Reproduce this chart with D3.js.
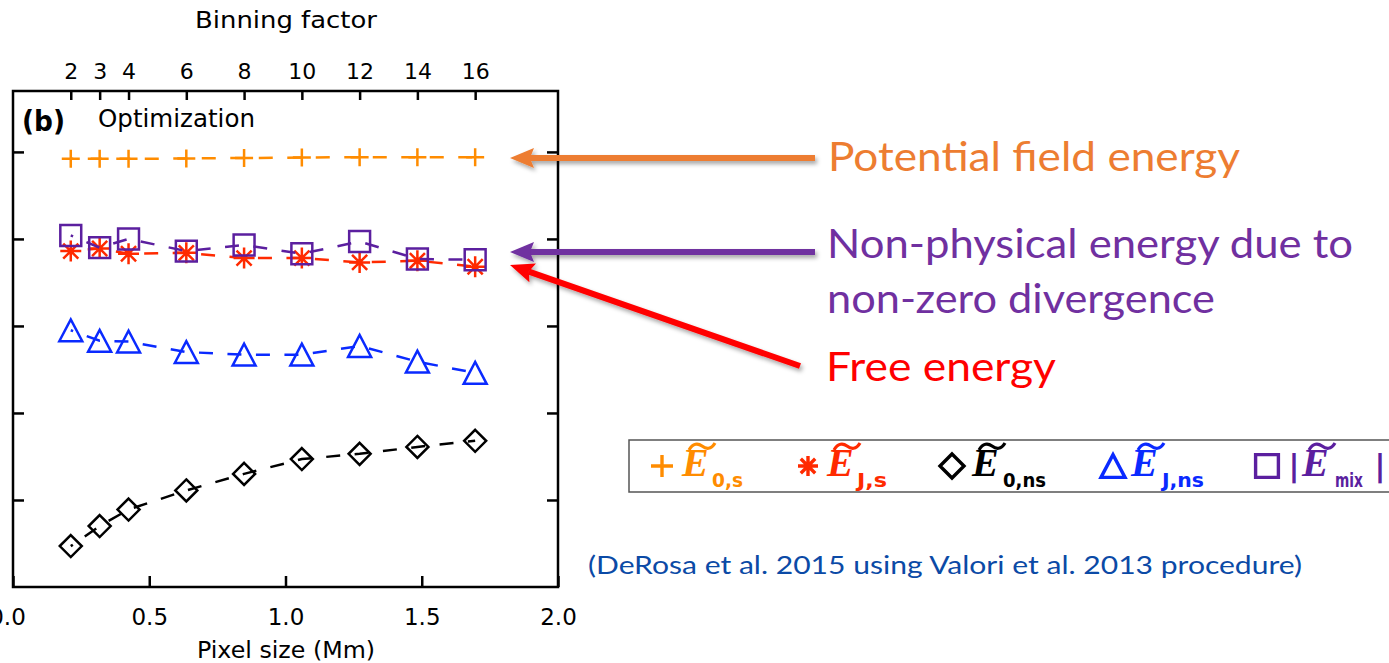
<!DOCTYPE html>
<html>
<head>
<meta charset="utf-8">
<script src="https://cdn.jsdelivr.net/npm/d3@7"></script>
<style>
  html, body { margin: 0; padding: 0; background: #ffffff; }
  svg { display: block; }
</style>
</head>
<body>
<script>
// ---------------- DATA ----------------
const binning   = [2, 3, 4, 6, 8, 10, 12, 14, 16];
const pixelSize = [0.212, 0.318, 0.424, 0.636, 0.848, 1.060, 1.272, 1.484, 1.696];
const E0s  = [4.92, 4.92, 4.92, 4.925, 4.93, 4.935, 4.94, 4.94, 4.94];
const EJs  = [3.86, 3.89, 3.83, 3.84, 3.78, 3.78, 3.73, 3.75, 3.68];
const E0ns = [0.47, 0.70, 0.89, 1.11, 1.30, 1.47, 1.53, 1.61, 1.68];
const EJns = [2.95, 2.83, 2.82, 2.70, 2.67, 2.67, 2.77, 2.59, 2.46];
const Emix = [4.04, 3.90, 4.00, 3.86, 3.93, 3.83, 3.97, 3.77, 3.76];
const xTicks = [0.0, 0.5, 1.0, 1.5, 2.0];
const yTicks = [1, 2, 3, 4, 5];
const seriesNames   = ["E0s", "EJs", "E0ns", "EJns", "Emix"];
const seriesSymbols = ["plus", "asterisk", "diamond", "triangle", "square"];
const seriesColors  = ["#ff8c00", "#ff2a00", "#000000", "#0a2aff", "#5b1f9f"];
const legendSubs    = ["0,s", "J,s", "0,ns", "J,ns", "mix"];
const annotations = [
  { text: "Potential field energy", color: "#ed7d31" },
  { text: "Non-physical energy due to", color: "#7030a0" },
  { text: "non-zero divergence", color: "#7030a0" },
  { text: "Free energy", color: "#ff0000" }
];
const citation = "(DeRosa et al. 2015 using Valori et al. 2013 procedure)";

// ---------------- LAYOUT ----------------
const W = 1389, H = 663;
const frame = { left: 13, right: 558, top: 91, bottom: 587 };
const axisFont = "'DejaVu Sans', sans-serif";
const annFont = "Lato, 'Open Sans', sans-serif";

const svg = d3.select("body").append("svg").attr("width", W).attr("height", H);

const defs = svg.append("defs");
const f = defs.append("filter").attr("id", "shadow").attr("x", "-10%").attr("y", "-50%").attr("width", "130%").attr("height", "200%");
f.append("feDropShadow").attr("dx", 2).attr("dy", 3).attr("stdDeviation", 2).attr("flood-color", "#000").attr("flood-opacity", 0.35);

const x = d3.scaleLinear().domain([0, 2]).range([frame.left, frame.right]);
const y = d3.scaleLinear().domain([0, 5.7]).range([frame.bottom, frame.top]);

// ---------------- AXES ----------------
const tickStroke = 2.5;
function styleAxis(g) {
  g.select(".domain").remove();
  g.selectAll("line").attr("stroke", "#000").attr("stroke-width", tickStroke);
  g.selectAll("text").attr("fill", "#000").style("font-family", axisFont);
}

const gBottom = svg.append("g").attr("transform", `translate(0,${frame.bottom})`)
  .call(d3.axisBottom(x).tickValues(xTicks).tickSizeInner(-11).tickSizeOuter(0).tickFormat(d3.format(".1f")));
styleAxis(gBottom);
gBottom.selectAll("text").attr("y", 38).attr("dy", null).style("font-size", "23px");
gBottom.selectAll("text").filter(d => d === 0).attr("x", -6);

const gTop = svg.append("g").attr("transform", `translate(0,${frame.top})`)
  .call(d3.axisTop(x).tickValues(pixelSize).tickSizeInner(-9).tickSizeOuter(0).tickFormat((d, i) => binning[i]));
styleAxis(gTop);
gTop.selectAll("text").attr("y", -12).attr("dy", null).style("font-size", "22px");

const gLeft = svg.append("g").attr("transform", `translate(${frame.left},0)`)
  .call(d3.axisLeft(y).tickValues(yTicks).tickSizeInner(-11).tickSizeOuter(0).tickFormat(""));
styleAxis(gLeft);
const gRight = svg.append("g").attr("transform", `translate(${frame.right},0)`)
  .call(d3.axisRight(y).tickValues(yTicks).tickSizeInner(-11).tickSizeOuter(0).tickFormat(""));
styleAxis(gRight);

svg.append("rect")
  .attr("x", frame.left).attr("y", frame.top)
  .attr("width", frame.right - frame.left).attr("height", frame.bottom - frame.top)
  .attr("fill", "none").attr("stroke", "#000").attr("stroke-width", 2.5);

// axis titles
svg.append("text").attr("x", 286).attr("y", 28).attr("text-anchor", "middle")
  .style("font-family", axisFont).style("font-size", "23px")
  .attr("textLength", 182).attr("lengthAdjust", "spacingAndGlyphs").text("Binning factor");
svg.append("text").attr("x", 286).attr("y", 658).attr("text-anchor", "middle")
  .style("font-family", axisFont).style("font-size", "23px")
  .attr("textLength", 178).attr("lengthAdjust", "spacingAndGlyphs").text("Pixel size (Mm)");

// panel labels
svg.append("text").attr("x", 22).attr("y", 131)
  .style("font-family", axisFont).style("font-size", "28px").style("font-weight", "bold")
  .attr("textLength", 43).attr("lengthAdjust", "spacingAndGlyphs").text("(b)");
svg.append("text").attr("x", 98).attr("y", 127)
  .style("font-family", axisFont).style("font-size", "24px")
  .attr("textLength", 157).attr("lengthAdjust", "spacingAndGlyphs").text("Optimization");

// ---------------- SYMBOLS ----------------
function symbolPath(type, s) {
  switch (type) {
    case "plus": return `M${-s},0H${s}M0,${-s}V${s}`;
    case "asterisk": { const d = s * 0.72; return `M${-s},0H${s}M0,${-s}V${s}M${-d},${-d}L${d},${d}M${-d},${d}L${d},${-d}`; }
    case "diamond": return `M0,${-s}L${s},0L0,${s}L${-s},0Z`;
    case "triangle": return `M${-s},${s * 0.95}L0,${-s * 0.95}L${s},${s * 0.95}Z`;
    case "square": { const q = s * 0.95; return `M${-q},${-q}H${q}V${q}H${-q}Z`; }
  }
}
const markerSize = { plus: 9, asterisk: 10.5, diamond: 11, triangle: 11.5, square: 11 };

// ---------------- SERIES ----------------
const allSeries = [E0s, EJs, E0ns, EJns, Emix];
const line = d3.line().x((d, i) => x(pixelSize[i])).y(d => y(d));

allSeries.forEach((vals, k) => {
  const g = svg.append("g").attr("class", "series " + seriesNames[k]);
  g.append("path").attr("d", line(vals))
    .attr("fill", "none").attr("stroke", seriesColors[k]).attr("stroke-width", 2.5)
    .attr("stroke-dasharray", "14 14.5").attr("stroke-dashoffset", 11.5);
  g.selectAll("path.mk").data(vals).join("path").attr("class", "mk")
    .attr("transform", (d, i) => `translate(${x(pixelSize[i])},${y(d)})`)
    .attr("d", symbolPath(seriesSymbols[k], markerSize[seriesSymbols[k]]))
    .attr("fill", "none").attr("stroke", seriesColors[k]).attr("stroke-width", 2.5)
    .attr("stroke-linejoin", "miter");
});

// ---------------- ANNOTATIONS ----------------
const annPos = [
  { x: 828, y: 171, w: 412 },
  { x: 827, y: 258, w: 526 },
  { x: 827, y: 313, w: 388 },
  { x: 826, y: 381, w: 230 }
];
annotations.forEach((a, i) => {
  svg.append("text").attr("x", annPos[i].x).attr("y", annPos[i].y)
    .attr("fill", a.color).style("font-family", annFont).style("font-size", "41px")
    .attr("textLength", annPos[i].w).attr("lengthAdjust", "spacingAndGlyphs").text(a.text);
});

function arrow(x1, y1, x2, y2, color) {
  const ang = Math.atan2(y2 - y1, x2 - x1);
  const L = 20, hw = 10;
  const bx = x2 - L * Math.cos(ang), by = y2 - L * Math.sin(ang);
  const g = svg.append("g").attr("filter", "url(#shadow)");
  g.append("line").attr("x1", x1).attr("y1", y1).attr("x2", bx).attr("y2", by)
    .attr("stroke", color).attr("stroke-width", 6);
  const px = -Math.sin(ang), py = Math.cos(ang);
  g.append("path")
    .attr("d", `M${x2},${y2}L${bx + px * hw - 4 * Math.cos(ang)},${by + py * hw - 4 * Math.sin(ang)}L${bx},${by}L${bx - px * hw - 4 * Math.cos(ang)},${by - py * hw - 4 * Math.sin(ang)}Z`)
    .attr("fill", color);
}
arrow(815, 158, 510, 158, "#ed7d31");
arrow(815, 252, 510, 252, "#7030a0");
arrow(800, 366, 510, 265, "#ff0000");

// ---------------- LEGEND ----------------
svg.append("rect").attr("x", 629).attr("y", 440).attr("width", 800).attr("height", 52)
  .attr("fill", "#fff").attr("stroke", "#555").attr("stroke-width", 1.5);

const legX = [662, 808, 952, 1113, 1267];
const legE  = [682, 827, 972, 1131, 1302];
const legSub = [712, 857, 1003, 1162, 1335];
const legSubW = [31, 30, 43, 42, 28];
const legSymSize = { plus: 11, asterisk: 10, diamond: 12, triangle: 12, square: 12 };
seriesSymbols.forEach((sym, k) => {
  const c = seriesColors[k];
  svg.append("path").attr("transform", `translate(${legX[k]},466)`)
    .attr("d", symbolPath(sym, legSymSize[sym]))
    .attr("fill", "none").attr("stroke", c).attr("stroke-width", 3.4);
  const ex = legE[k];
  svg.append("text").attr("x", ex).attr("y", 476).attr("fill", c)
    .style("font-family", "'Liberation Serif', 'DejaVu Serif', serif").style("font-size", "40px")
    .style("font-weight", "bold").style("font-style", "italic").text("E");
  svg.append("path").attr("d", `M${ex + 7},${450}C${ex + 11},${443} ${ex + 16},${443} ${ex + 20},${446}S${ex + 29},${450} ${ex + 33},${443}`)
    .attr("fill", "none").attr("stroke", c).attr("stroke-width", 3.2);
  svg.append("text").attr("x", legSub[k]).attr("y", 487).attr("fill", c)
    .style("font-family", "'DejaVu Sans', sans-serif").style("font-size", "19px")
    .style("font-weight", "bold")
    .attr("textLength", legSubW[k]).attr("lengthAdjust", "spacingAndGlyphs").text(legendSubs[k]);
  if (seriesNames[k] === "Emix") {
    svg.append("text").attr("x", 1294).attr("y", 476).attr("fill", c).attr("text-anchor", "middle")
      .style("font-family", "'DejaVu Sans', sans-serif").style("font-size", "30px").style("font-weight", "bold").text("|");
    svg.append("text").attr("x", 1380).attr("y", 476).attr("fill", c).attr("text-anchor", "middle")
      .style("font-family", "'DejaVu Sans', sans-serif").style("font-size", "30px").style("font-weight", "bold").text("|");
  }
});

// citation
svg.append("text").attr("x", 588).attr("y", 574).attr("fill", "#0b4aa6")
  .style("font-family", annFont).style("font-size", "25px")
  .attr("textLength", 714).attr("lengthAdjust", "spacingAndGlyphs").text(citation);
</script>
</body>
</html>
